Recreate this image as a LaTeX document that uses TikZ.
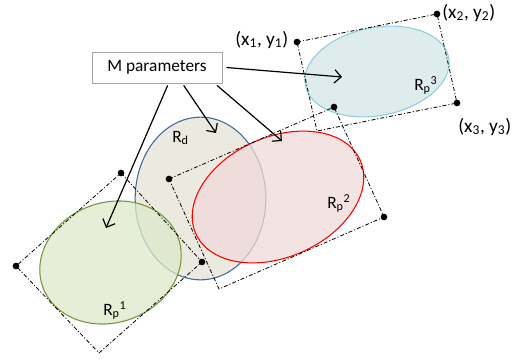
\documentclass[tikz,border=0pt]{standalone}
\usepackage{fontspec}
\setmainfont{Carlito}
\usepackage{tikz}
\usetikzlibrary{arrows.meta,shapes.geometric}
\definecolor{rdfill}{HTML}{ECEAE0}
\definecolor{rdline}{HTML}{41699B}
\definecolor{pafill}{HTML}{DDE8CB}
\definecolor{paline}{HTML}{77933C}
\definecolor{pbfill}{HTML}{F0D9D9}
\definecolor{pcfill}{HTML}{DEECEE}
\definecolor{pcline}{HTML}{93CDDD}
\tikzset{%
  region/.style={ellipse,inner sep=0pt,line width=0.8pt},
  frame/.style={line width=0.6pt,dash pattern=on 3pt off 1.5pt on 0.8pt off 1.5pt},
  corner/.style={circle,fill=black,inner sep=0pt,minimum size=5pt},
  arrow/.style={-{Straight Barb[length=5pt,width=10pt]}, line width=0.9pt}%
}

\begin{document}
\begin{tikzpicture}[
    x=0.75pt,
    y=-0.75pt,
    font=\fontsize{13pt}{15pt}\selectfont,
    label/.style={anchor=base west,inner sep=0pt},
    xylabel/.style={label,font=\fontsize{14.5pt}{17pt}\selectfont},
    parbox/.style={
        draw=gray!70,
        fill=white,
        line width=0.6pt,
        minimum width=97.5pt,
        minimum height=23.25pt
    }
]
\useasboundingbox (0,0) rectangle (519,358);

% Regions
\node[region, draw=rdline, fill=rdfill, minimum width=98pt, minimum height=122pt] (rd) at (200.5,198.5) {};
\node[region, draw=paline, fill=pafill, fill opacity=0.75, minimum width=108pt, minimum height=90pt, rotate=20] (pa) at (110.5,262.5) {};
\node[region, draw=red, fill=pbfill, fill opacity=0.75, minimum width=135pt, minimum height=90pt, rotate=24] (pb) at (278,197) {};
\node[region, draw=pcline, fill=pcfill, minimum width=109.5pt, minimum height=66pt, rotate=11] (pc) at (377,71.5) {};

% Labels
\node[label] (lrd) at (172,142) {R\textsubscript{d}};
\node[label] (lpa) at (103,315) {R\textsubscript{p}\textsuperscript{1}};
\node[label] (lpb) at (327,208) {R\textsubscript{p}\textsuperscript{2}};
\node[label] (lpc) at (414,90) {R\textsubscript{p}\textsuperscript{3}};

% Bounding boxes
\coordinate (r1a) at (121,173);
\coordinate (r1b) at (202,262);
\coordinate (r1c) at (99,353);
\coordinate (r1d) at (16,266);
\coordinate (r2a) at (169,179);
\coordinate (r2b) at (334,107);
\coordinate (r2c) at (384,217);
\coordinate (r2d) at (219,289);
\coordinate (r3a) at (297,42);
\coordinate (r3b) at (437,14);
\coordinate (r3c) at (457,103);
\coordinate (r3d) at (317,131);
\draw[frame] (r1a) -- (r1b) -- (r1c) -- (r1d) -- cycle;
\draw[frame] (r2a) -- (r2b) -- (r2c) -- (r2d) -- cycle;
\draw[frame] (r3a) -- (r3b) -- (r3c) -- (r3d) -- cycle;
\foreach \c in {r1a,r1b,r1d,r2a,r2b,r2c,r3a,r3b,r3c}
  \node[corner] at (\c) {};

% Corner labels
\node[xylabel] (xa) at (235,45) {(x\textsubscript{1}, y\textsubscript{1})};
\node[xylabel] (xb) at (442,18) {(x\textsubscript{2}, y\textsubscript{2})};
\node[xylabel] (xc) at (458,132) {(x\textsubscript{3}, y\textsubscript{3})};

% Parameters
\node[parbox] (mp) at (157,67.5) {M parameters};
\coordinate (tc) at (342,77);
\coordinate (ta) at (106,228);
\coordinate (td) at (216,133);
\coordinate (tb) at (282,141);

% Arrows
\draw[arrow] ([xshift=3pt]mp.east) -- (tc);
\draw[arrow] ([xshift=8pt,yshift=-1.5pt]mp.south) -- (ta);
\draw[arrow] ([xshift=20pt,yshift=-1.5pt]mp.south) -- (td);
\draw[arrow] ([xshift=45pt,yshift=-1.5pt]mp.south) -- (tb);

\end{tikzpicture}
\end{document}
